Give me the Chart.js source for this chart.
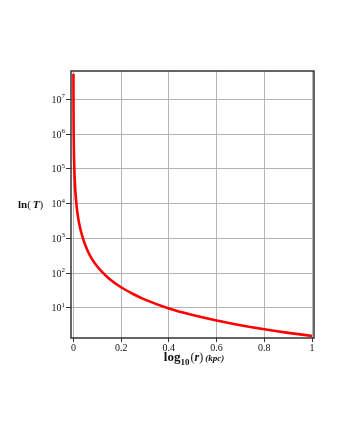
<!DOCTYPE html>
<html>
<head>
<meta charset="utf-8">
<script src="https://cdn.jsdelivr.net/npm/chart.js@4.4.0/dist/chart.umd.min.js"></script>
<style>
html,body{margin:0;padding:0;background:#fff;}
#wrap{width:340px;height:440px;position:relative;}
canvas{display:block;}
</style>
</head>
<body>
<div id="wrap"><canvas id="c" width="340" height="440"></canvas></div>
<script>
// log10(r) values (kpc)
const rValues = [0.0002, 0.0005, 0.001, 0.002, 0.004, 0.007, 0.011, 0.016, 0.025, 0.04, 0.06, 0.08, 0.1, 0.12, 0.15, 0.2, 0.25, 0.3, 0.4, 0.5, 0.6, 0.7, 0.8, 0.9, 1.0];
// T values
const tValues = [5.5e7, 7e6, 1.6e6, 4e5, 1e5, 3.2e4, 1.3e4, 6e3, 2.5e3, 1000, 430, 240, 155, 108, 69, 39, 25, 17.2, 9.6, 6.2, 4.3, 3.15, 2.4, 1.9, 1.55];
const xTicks = [0, 0.2, 0.4, 0.6, 0.8, 1];
const yTicks = [1e1, 1e2, 1e3, 1e4, 1e5, 1e6, 1e7];
const xTitle = ['log', '10', '(', 'r', ')', '(kpc)'];
const yTitle = ['ln', '(', 'T', ')'];

const SERIF = '"Liberation Serif","DejaVu Serif",serif';

const framePlugin = {
  id: 'frame',
  afterDatasetsDraw(chart){
    const {ctx, chartArea:a} = chart;
    ctx.save();
    ctx.strokeStyle = '#333';
    ctx.lineWidth = 1.5;
    ctx.strokeRect(a.left, a.top, a.right - a.left, a.bottom - a.top);
    ctx.restore();
  },
  afterDraw(chart){
    const ctx = chart.ctx;
    ctx.save();
    ctx.fillStyle = '#111';
    ctx.textBaseline = 'alphabetic';
    // y tick labels: 10 with raised exponent, placed by the y scale
    const ys = chart.scales.y;
    ys.ticks.forEach(t=>{
      const py = ys.getPixelForValue(t.value);
      const e = String(Math.round(Math.log10(t.value)));
      ctx.font = '7px ' + SERIF;
      const ew = ctx.measureText(e).width;
      const right = ys.right - 6;
      ctx.textAlign = 'left';
      ctx.fillText(e, right - ew, py - 1);
      ctx.font = '10px ' + SERIF;
      ctx.textAlign = 'right';
      ctx.fillText('10', right - ew, py + 3.5);
    });
    ctx.textAlign = 'left';
    // x title
    const parts = [
      {t: xTitle[0], f: 'bold 13px ' + SERIF, dy: 0, gap: 0},
      {t: xTitle[1], f: 'bold 9px ' + SERIF, dy: 4, gap: 0},
      {t: xTitle[2], f: '12px ' + SERIF, dy: 0, gap: 1},
      {t: xTitle[3], f: 'bold italic 12px ' + SERIF, dy: 0, gap: 0},
      {t: xTitle[4], f: '12px ' + SERIF, dy: 0, gap: 0},
      {t: xTitle[5], f: 'bold italic 9px ' + SERIF, dy: 0, gap: 2}
    ];
    let total = 0;
    parts.forEach(p=>{ ctx.font = p.f; p.w = ctx.measureText(p.t).width; total += p.w + p.gap; });
    let x = 194 - total/2;
    parts.forEach(p=>{ x += p.gap; ctx.font = p.f; ctx.fillText(p.t, x, 361 + p.dy); x += p.w; });
    // y title
    const yp = [
      {t: yTitle[0], f: 'bold 11px ' + SERIF, gap: 0},
      {t: yTitle[1], f: '11px ' + SERIF, gap: 0},
      {t: yTitle[2], f: 'bold italic 11px ' + SERIF, gap: 2},
      {t: yTitle[3], f: '11px ' + SERIF, gap: 0}
    ];
    x = 18;
    yp.forEach(p=>{ x += p.gap; ctx.font = p.f; ctx.fillText(p.t, x, 208); x += ctx.measureText(p.t).width; });
    ctx.restore();
  }
};

new Chart(document.getElementById('c'), {
  type: 'line',
  data: {
    datasets: [{
      data: rValues.map((r,i)=>({x: r, y: tValues[i]})),
      borderColor: '#ff0000',
      borderWidth: 2.6,
      pointRadius: 0,
      fill: false,
      cubicInterpolationMode: 'monotone'
    }]
  },
  options: {
    responsive: false,
    animation: false,
    devicePixelRatio: 1,
    layout: {padding: {left: 0, top: 71, right: 26, bottom: 0}},
    plugins: {legend: {display: false}, tooltip: {enabled: false}},
    scales: {
      x: {
        type: 'linear',
        min: -0.01,
        max: 1.008,
        afterBuildTicks(s){ s.ticks = xTicks.map(v=>({value: v})); },
        afterFit(s){ s.height = 102; },
        grid: {color: '#b4b4b4', lineWidth: 1, tickLength: 4, tickColor: '#333', drawTicks: true},
        border: {display: false},
        ticks: {
          color: '#111', padding: 0, maxRotation: 0, autoSkip: false,
          font: {family: SERIF, size: 10},
          callback: v => String(v)
        }
      },
      y: {
        type: 'logarithmic',
        min: 1.35,
        max: 6.6e7,
        afterBuildTicks(s){ s.ticks = yTicks.map(v=>({value: v, major: true})); },
        afterFit(s){ s.width = 71; },
        grid: {color: '#b4b4b4', lineWidth: 1, tickLength: 5, tickColor: '#333', drawTicks: true},
        border: {display: false},
        ticks: {display: false}
      }
    }
  },
  plugins: [framePlugin]
});
</script>
</body>
</html>
